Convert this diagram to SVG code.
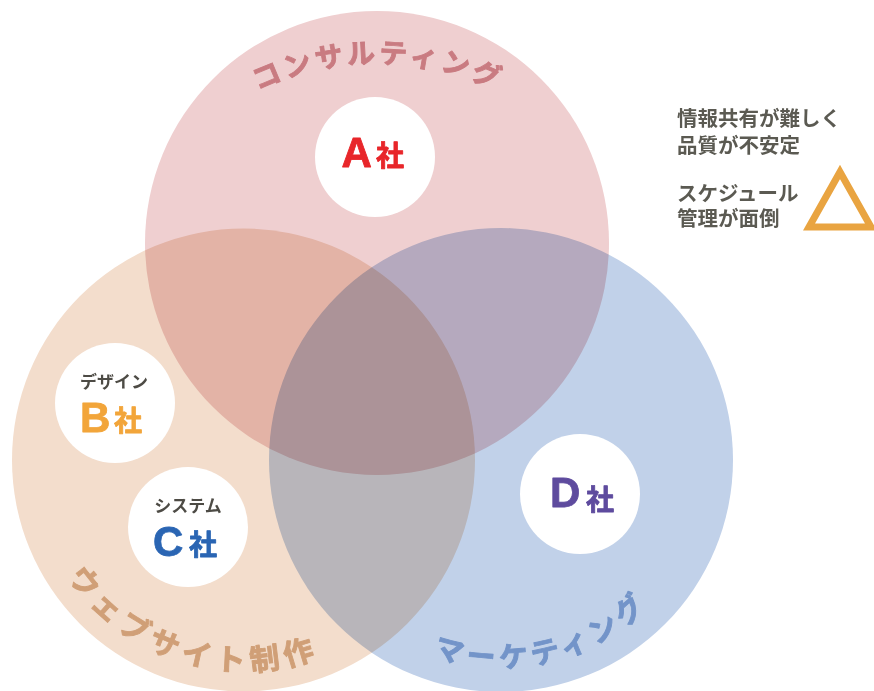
<svg xmlns="http://www.w3.org/2000/svg" width="874" height="691" viewBox="0 0 874 691">
  <style>
    .big { mix-blend-mode: multiply; }
    .hole { fill: #ffffff; }
    .arc { font-family: "Noto Sans CJK JP", "Noto Sans", sans-serif; font-weight: bold; stroke-width: 0.9; stroke-linejoin: round; }
    .name { stroke-width: 0.8; stroke-linejoin: round; }
    .letter { font-family: "Liberation Sans", Arial, sans-serif; font-weight: bold; font-size: 42px; }
    .sha { font-family: "Noto Sans CJK JP", sans-serif; font-weight: bold; font-size: 28px; }
    .sub { font-family: "Noto Sans CJK JP", sans-serif; font-weight: bold; font-size: 17px; fill: #4d4b45; text-anchor: middle; }
    .note { font-family: "Noto Sans CJK JP", sans-serif; font-weight: bold; font-size: 20.5px; fill: #5b5a52; }
  </style>
  <defs>
    <path id="arcA" d="M141.6,199.5 A273,273 0 0,1 614.4,199.5"/>
    <path id="arcW" d="M33.3,478.4 A211,211 0 0,0 405.1,595.6"/>
    <path id="arcM" d="M332.8,581.7 A207.6,207.6 0 0,0 706,492.8"/>
  </defs>
  <rect width="874" height="691" fill="#ffffff"/>

  <g id="circles">
    <g id="consulting">
      <circle class="big" cx="377" cy="243" r="232" fill="#efcfd0"/>
    </g>
    <g id="web">
      <circle class="big" cx="243.5" cy="460" r="231.5" fill="#f3ddcc"/>
    </g>
    <g id="marketing">
      <circle class="big" cx="501" cy="460" r="232" fill="#c1d1e9"/>
    </g>
  </g>

  <g id="circle-labels">
    <text class="arc" font-size="28" letter-spacing="3.3" fill="#c97b81" stroke="#c97b81" text-anchor="middle"><textPath href="#arcA" startOffset="50%">コンサルティング</textPath></text>
    <text class="arc" font-size="30" letter-spacing="6" fill="#d09f77" stroke="#d09f77" text-anchor="middle"><textPath href="#arcW" startOffset="50%">ウェブサイト制作</textPath></text>
    <text class="arc" font-size="29" letter-spacing="5" fill="#7394c9" stroke="#7394c9" text-anchor="middle"><textPath href="#arcM" startOffset="50%">マーケティング</textPath></text>
  </g>

  <g id="node-a">
    <circle class="hole" cx="375" cy="157" r="60"/>
    <text class="name" fill="#e8262a" stroke="#e8262a"><tspan class="letter" x="341.5" y="167">A</tspan><tspan class="sha" x="376" y="166">社</tspan></text>
  </g>

  <g id="node-b">
    <circle class="hole" cx="115" cy="403" r="60"/>
    <text class="sub" x="114" y="388">デザイン</text>
    <text class="name" fill="#f2a53a" stroke="#f2a53a"><tspan class="letter" x="80" y="432">B</tspan><tspan class="sha" x="114" y="431">社</tspan></text>
  </g>

  <g id="node-c">
    <circle class="hole" cx="188" cy="527" r="60"/>
    <text class="sub" x="188" y="512">システム</text>
    <text class="name" fill="#2a65b3" stroke="#2a65b3"><tspan class="letter" x="153" y="556">C</tspan><tspan class="sha" x="189" y="555">社</tspan></text>
  </g>

  <g id="node-d">
    <circle class="hole" cx="580" cy="494" r="60"/>
    <text class="name" fill="#5e4b9e" stroke="#5e4b9e"><tspan class="letter" x="550" y="507">D</tspan><tspan class="sha" x="586" y="510">社</tspan></text>
  </g>

  <g id="legend">
    <text class="note"><tspan x="677" y="126">情報共有が難しく</tspan><tspan x="677" y="153">品質が不安定</tspan></text>
    <text class="note"><tspan x="677" y="201">スケジュール</tspan><tspan x="677" y="226">管理が面倒</tspan></text>
    <path d="M840,172 L871,227 L809,227 Z" fill="none" stroke="#e9a441" stroke-width="7" stroke-linejoin="miter"/>
  </g>
</svg>
